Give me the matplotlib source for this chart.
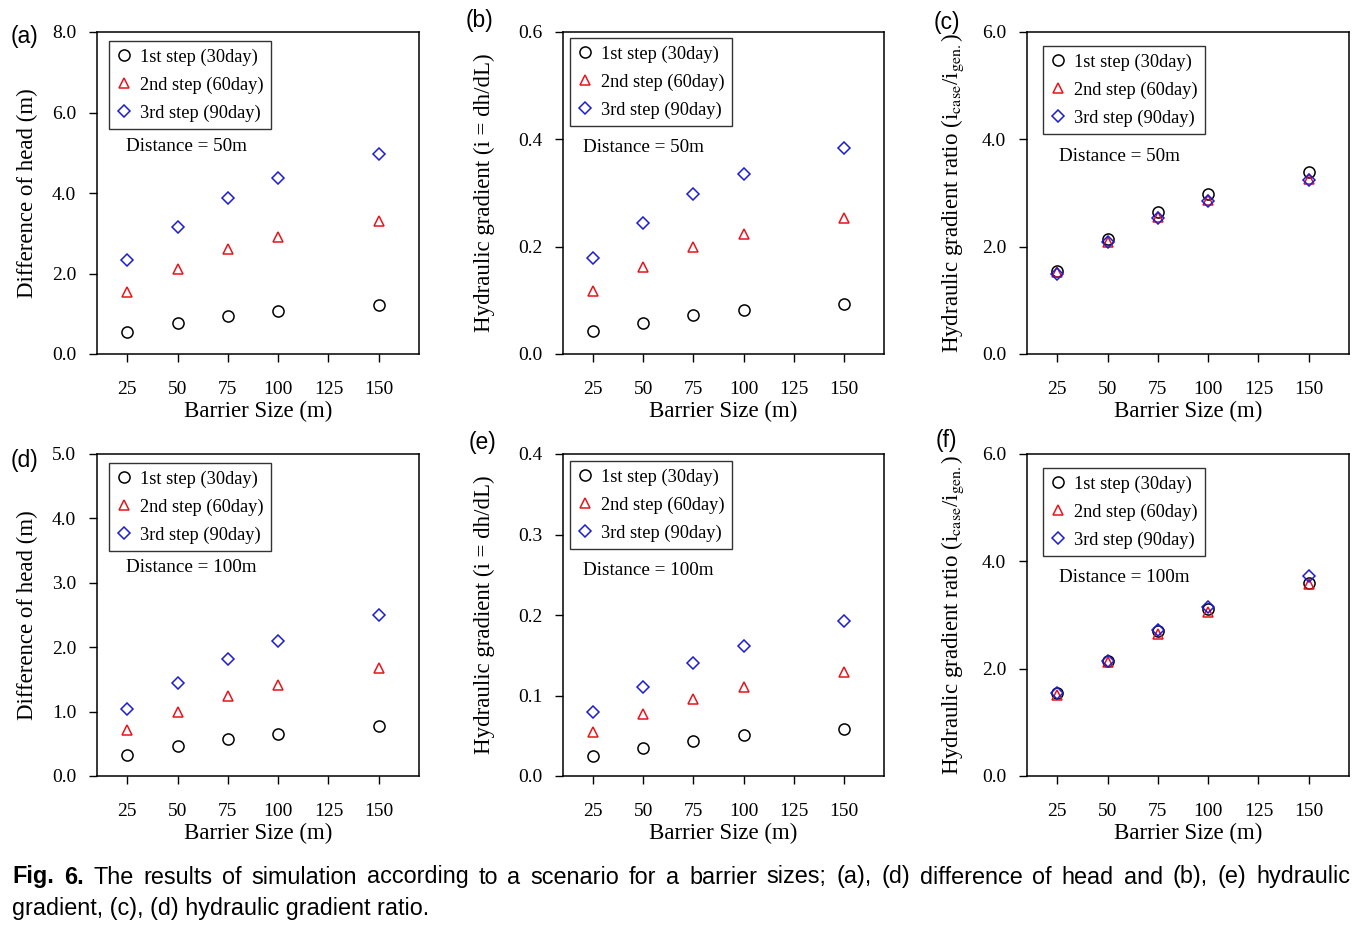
import matplotlib
matplotlib.use('Agg')
import matplotlib.pyplot as plt

plt.rcParams['font.family'] = 'Liberation Serif'
plt.rcParams['mathtext.fontset'] = 'stix'

sizes = [25, 50, 75, 100, 125, 150]
xdata = [25, 50, 75, 100, 150]
steps = ['1st step (30day)', '2nd step (60day)', '3rd step (90day)']

# (a) difference of head, distance 50m
head50 = [[0.55, 0.76, 0.95, 1.07, 1.22],
          [1.53, 2.11, 2.60, 2.91, 3.30],
          [2.33, 3.16, 3.88, 4.38, 4.98]]
# (b) hydraulic gradient, distance 50m
grad50 = [[0.042, 0.058, 0.073, 0.082, 0.094],
          [0.118, 0.162, 0.200, 0.224, 0.254],
          [0.178, 0.244, 0.299, 0.336, 0.384]]
# (c) gradient ratio, distance 50m
ratio50 = [[1.55, 2.15, 2.65, 2.99, 3.40],
           [1.52, 2.08, 2.56, 2.87, 3.26],
           [1.49, 2.08, 2.54, 2.85, 3.25]]
# (d) difference of head, distance 100m
head100 = [[0.33, 0.46, 0.57, 0.65, 0.77],
           [0.71, 1.00, 1.25, 1.42, 1.68],
           [1.04, 1.44, 1.82, 2.10, 2.50]]
# (e) hydraulic gradient, distance 100m
grad100 = [[0.025, 0.035, 0.044, 0.051, 0.059],
           [0.055, 0.077, 0.096, 0.110, 0.129],
           [0.079, 0.111, 0.140, 0.161, 0.192]]
# (f) gradient ratio, distance 100m
ratio100 = [[1.54, 2.15, 2.71, 3.11, 3.60],
            [1.51, 2.12, 2.64, 3.05, 3.57],
            [1.54, 2.15, 2.72, 3.14, 3.72]]

W, H = 1369, 925
fig = plt.figure(figsize=(W/100, H/100), dpi=100)

lab_head = 'Difference of head (m)'
lab_grad = 'Hydraulic gradient (i = dh/dL)'
lab_ratio = r'Hydraulic gradient ratio (i$_{\mathrm{case}}$/i$_{\mathrm{gen.}}$)'

panels = [
    # data, ylim, yticks, ylabel, dist text, box px (l, t, r, b), legend offset px, panel label, label pos, dist pos, ylabel right edge x
    (head50, 8, [0, 2, 4, 6, 8], lab_head, 'Distance = 50m', (97, 32, 419, 354), (12, 9), '(a)', (11, 37), (0.090, 0.643), 38),
    (grad50, 0.6, [0, 0.2, 0.4, 0.6], lab_grad, 'Distance = 50m', (563, 32, 884, 354), (7, 6), '(b)', (466, 20), (0.062, 0.640), 495),
    (ratio50, 6, [0, 2, 4, 6], lab_ratio, 'Distance = 50m', (1027, 32, 1349, 354), (16, 14), '(c)', (934, 22), (0.100, 0.612), 966),
    (head100, 5, [0, 1, 2, 3, 4, 5], lab_head, 'Distance = 100m', (97, 454, 419, 776), (12, 9), '(d)', (11, 460), (0.090, 0.646), 38),
    (grad100, 0.4, [0, 0.1, 0.2, 0.3, 0.4], lab_grad, 'Distance = 100m', (563, 454, 884, 776), (7, 7), '(e)', (469, 443), (0.062, 0.637), 495),
    (ratio100, 6, [0, 2, 4, 6], lab_ratio, 'Distance = 100m', (1027, 454, 1349, 776), (16, 14), '(f)', (936, 440), (0.100, 0.615), 966),
]

styles = [dict(marker='o', mec='black', ms=8),
          dict(marker='^', mec='#e8141b', ms=7.5),
          dict(marker='D', mec='#1c1cd6', ms=6)]

for data, ymax, yt, ylab, dist, box, loff, plab, ppos, dpos, ylx in panels:
    l, t, r, b = box
    w, h = r - l, b - t
    ax = fig.add_axes([l/W, 1 - b/H, w/W, h/H])
    for vals, st, name in zip(data, styles, steps):
        ax.plot(xdata, vals, ls='none', mfc='none', mew=1.1, label=name, **st)
    ax.set_xlim(10, 170)
    ax.set_ylim(0, ymax)
    ax.set_xticks(sizes)
    ax.set_yticks(yt)
    ax.set_yticklabels(['%.1f' % v for v in yt])
    ax.tick_params(direction='out', length=6, width=1, labelsize=14)
    ax.tick_params(axis='x', pad=13.5)
    ax.tick_params(axis='y', pad=9)
    for s in ax.spines.values():
        s.set_linewidth(1.1)
    ax.set_xlabel('Barrier Size (m)', fontsize=16.5, labelpad=2)
    ax.set_ylabel(ylab, fontsize=16.5)
    ax.yaxis.set_label_coords((ylx - l) / w, 0.5)
    leg = ax.legend(loc='upper left', bbox_to_anchor=(loff[0]/w, 1 - loff[1]/h),
                    borderaxespad=0, fontsize=13.2, frameon=True, fancybox=False,
                    edgecolor='black', handlelength=0.8, handletextpad=0.5,
                    labelspacing=0.58, borderpad=0.4)
    leg.get_frame().set_linewidth(1.0)
    ax.text(dpos[0], dpos[1], dist, transform=ax.transAxes, fontsize=13.8,
            va='center', ha='left')
    fig.text(ppos[0]/W, 1 - ppos[1]/H, plab, fontsize=16.5, family='Liberation Sans',
             va='center', ha='left')

# caption, first line justified across the width
fig.canvas.draw()
rend = fig.canvas.get_renderer()
line1 = ['Fig.', '6.', 'The', 'results', 'of', 'simulation', 'according', 'to', 'a', 'scenario',
         'for', 'a', 'barrier', 'sizes;', '(a),', '(d)', 'difference', 'of', 'head', 'and',
         '(b),', '(e)', 'hydraulic']
x0, x1 = 12, 1350
texts = []
for i, wd in enumerate(line1):
    tt = fig.text(0, 1 - 877/H, wd, fontsize=16.8, family='Liberation Sans',
                  weight='bold' if i < 2 else 'normal', va='center', ha='left')
    texts.append(tt)
widths = [tt.get_window_extent(rend).width for tt in texts]
gap = (x1 - x0 - sum(widths)) / (len(texts) - 1)
xc = x0
for tt, wd in zip(texts, widths):
    tt.set_x(xc / W)
    xc += wd + gap
fig.text(x0/W, 1 - 908/H, 'gradient, (c), (d) hydraulic gradient ratio.', fontsize=16.8,
         family='Liberation Sans', va='center', ha='left')

plt.savefig('out.png', dpi=100)
